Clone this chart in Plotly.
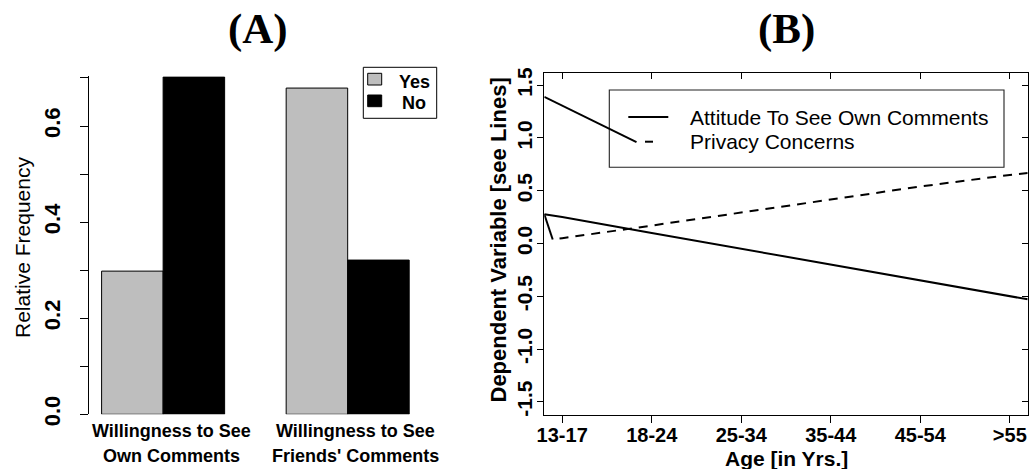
import plotly.graph_objects as go

W, H = 1029, 469

# ---------------- data ----------------
groups = ["Willingness to See<br>Own Comments", "Willingness to See<br>Friends' Comments"]
answers = ["Yes", "No"]
yes_freq = [0.298, 0.679]
no_freq = [0.702, 0.321]
freq_ticks = [0.0, 0.1, 0.2, 0.3, 0.4, 0.5, 0.6, 0.7]
freq_ticklabels = ["0.0", "", "0.2", "", "0.4", "", "0.6", ""]

ages = ["13-17", "18-24", "25-34", "35-44", "45-54", ">55"]
age_pos = [1, 2, 3, 4, 5, 6]
attitude_x = [0.8, 1, 2, 3, 4, 5, 6, 6.2]
attitude_y = [0.277, 0.25, 0.10, -0.05, -0.20, -0.35, -0.50, -0.529]
privacy_x = [0.97, 1, 2, 3, 4, 5, 6, 6.2]
privacy_y = [0.047, 0.05, 0.17, 0.295, 0.42, 0.54, 0.65, 0.667]
stray_a_x = [0.8, 1.83]
stray_a_y = [1.39, 0.96]
stray_b_x = [0.8, 0.894]
stray_b_y = [0.277, 0.038]
dv_ticks = [-1.5, -1.0, -0.5, 0.0, 0.5, 1.0, 1.5]
dv_ticklabels = ["-1.5", "-1.0", "-0.5", "0.0", "0.5", "1.0", "1.5"]

GRAY = "#BEBEBE"
SANS = "Liberation Sans, Arial, sans-serif"
SERIF = "Liberation Serif, Times New Roman, serif"


def px(x):
    return x / W


def py(y):
    return 1 - y / H


# bar positions (R barplot beside=TRUE layout: one bar-width gap before each group)
group_centers = [2 + 3 * i for i in range(len(groups))]
yes_pos = [c - 0.5 for c in group_centers]
no_pos = [c + 0.5 for c in group_centers]

fig = go.Figure()
fig.add_trace(go.Bar(x=yes_pos, y=yes_freq, width=1, name=answers[0],
                     marker=dict(color=GRAY, line=dict(color="black", width=1)),
                     xaxis="x", yaxis="y", showlegend=False))
fig.add_trace(go.Bar(x=no_pos, y=no_freq, width=1, name=answers[1],
                     marker=dict(color="black", line=dict(color="black", width=1)),
                     xaxis="x", yaxis="y", showlegend=False))

line_style = dict(color="black", width=2)
fig.add_trace(go.Scatter(x=attitude_x, y=attitude_y, mode="lines", name="Attitude To See Own Comments",
                         line=line_style, xaxis="x2", yaxis="y2", showlegend=False))
fig.add_trace(go.Scatter(x=privacy_x, y=privacy_y, mode="lines", name="Privacy Concerns",
                         line=dict(color="black", width=2, dash="9px,7px"),
                         xaxis="x2", yaxis="y2", showlegend=False))
fig.add_trace(go.Scatter(x=stray_a_x, y=stray_a_y, mode="lines", line=line_style,
                         xaxis="x2", yaxis="y2", showlegend=False, hoverinfo="skip"))
fig.add_trace(go.Scatter(x=stray_b_x, y=stray_b_y, mode="lines", line=line_style,
                         xaxis="x2", yaxis="y2", showlegend=False, hoverinfo="skip"))
# empty trace to activate the inner-tick overlay axes
fig.add_trace(go.Scatter(x=[None], y=[None], xaxis="x3", yaxis="y3", showlegend=False, hoverinfo="skip"))

left_dom = [px(89.3), px(421.5)]
right_dom = [px(544.3), px(1027.7)]
ly_dom = [py(414.3), py(76.3)]
ry_dom = [py(414.5), py(72.5)]

fig.update_layout(
    width=W, height=H,
    margin=dict(l=0, r=0, t=0, b=0),
    paper_bgcolor="white", plot_bgcolor="white",
    showlegend=False,
    barmode="overlay",
    xaxis=dict(domain=left_dom, range=[0.8, 6.2], showgrid=False, zeroline=False,
               showline=False, showticklabels=False, ticks="", automargin=False),
    yaxis=dict(domain=ly_dom, range=[0, 0.7035], showgrid=False, zeroline=False,
               showline=True, linecolor="black", linewidth=1.2,
               ticks="outside", ticklen=8, tickwidth=1.2, tickcolor="black",
               tickvals=freq_ticks, ticktext=freq_ticklabels, tickangle=-90,
               tickfont=dict(family=SANS, size=22, color="black", weight="bold"),
               ticklabelstandoff=11, automargin=False),
    xaxis2=dict(domain=right_dom, range=[0.8, 6.2], showgrid=False, zeroline=False,
                showline=True, mirror=True, linecolor="black", linewidth=1.3,
                ticks="outside", ticklen=7, tickwidth=1.2, tickcolor="black",
                tickvals=age_pos, ticktext=ages,
                tickfont=dict(family=SANS, size=20, color="black", weight="bold"),
                ticklabelstandoff=-5, automargin=False, anchor="y2"),
    yaxis2=dict(domain=ry_dom, range=[-1.62, 1.62], showgrid=False, zeroline=False,
                showline=True, mirror=True, linecolor="black", linewidth=1.3,
                ticks="outside", ticklen=6, tickwidth=1.2, tickcolor="black",
                tickvals=dv_ticks, ticktext=dv_ticklabels, tickangle=-90,
                tickfont=dict(family=SANS, size=21, color="black", weight="bold"),
                ticklabelstandoff=-3, automargin=False, anchor="x2"),
    xaxis3=dict(domain=right_dom, range=[0.8, 6.2], overlaying="x2", side="top",
                showgrid=False, zeroline=False, showline=False, showticklabels=False,
                ticks="inside", ticklen=6, tickwidth=1.2, tickcolor="black",
                tickvals=age_pos, anchor="y3", automargin=False),
    yaxis3=dict(domain=ry_dom, range=[-1.62, 1.62], overlaying="y2", side="right",
                showgrid=False, zeroline=False, showline=False, showticklabels=False,
                ticks="inside", ticklen=6, tickwidth=1.2, tickcolor="black",
                tickvals=dv_ticks, anchor="x3", automargin=False),
)

ann = []
# panel titles
ann.append(dict(text="<b>(A)</b>", x=px(257.5), y=py(29), xref="paper", yref="paper",
                xanchor="center", yanchor="middle", showarrow=False,
                font=dict(family=SERIF, size=43, color="black")))
ann.append(dict(text="<b>(B)</b>", x=px(786), y=py(29), xref="paper", yref="paper",
                xanchor="center", yanchor="middle", showarrow=False,
                font=dict(family=SERIF, size=43, color="black")))
# left y title
ann.append(dict(text="Relative Frequency", x=px(22), y=py(248), xref="paper", yref="paper",
                textangle=-90, xanchor="center", yanchor="middle", showarrow=False,
                font=dict(family=SANS, size=21, color="black")))
# group labels
for c, g in zip(group_centers, groups):
    l1, l2 = g.split("<br>")
    ann.append(dict(text="<b>%s</b>" % l1, x=c, xref="x", y=py(431), yref="paper", xshift=8,
                    xanchor="center", yanchor="middle", showarrow=False,
                    font=dict(family=SANS, size=18, color="black")))
    ann.append(dict(text="<b>%s</b>" % l2, x=c, xref="x", y=py(455.5), yref="paper", xshift=8,
                    xanchor="center", yanchor="middle", showarrow=False,
                    font=dict(family=SANS, size=18, color="black")))
# right axis titles
ann.append(dict(text="<b>Dependent Variable [see Lines]</b>", x=px(497.5), y=py(240),
                xref="paper", yref="paper", textangle=-90, xanchor="center", yanchor="middle",
                showarrow=False, font=dict(family=SANS, size=22, color="black")))
ann.append(dict(text="<b>Age [in Yrs.]</b>", x=px(786), y=py(458), xref="paper", yref="paper",
                xanchor="center", yanchor="middle", showarrow=False,
                font=dict(family=SANS, size=21, color="black")))
# left legend texts
for label, yc in zip(answers, [81.7, 103]):
    ann.append(dict(text="<b>%s</b>" % label, x=px(414.2), y=py(yc), xref="paper", yref="paper",
                    xanchor="center", yanchor="middle", showarrow=False,
                    font=dict(family=SANS, size=18, color="black")))
# right legend texts
for label, yc in zip(["Attitude To See Own Comments", "Privacy Concerns"], [117.2, 141]):
    ann.append(dict(text=label, x=px(688), y=py(yc), xref="paper", yref="paper",
                    xanchor="left", yanchor="middle", showarrow=False,
                    font=dict(family=SANS, size=21, color="black")))
fig.update_layout(annotations=ann)

shapes = []
# left legend box and keys
shapes.append(dict(type="rect", xref="paper", yref="paper", x0=px(363.3), x1=px(436.7),
                   y0=py(118.3), y1=py(67.3), line=dict(color="black", width=1), fillcolor="white",
                   layer="above"))
shapes.append(dict(type="rect", xref="paper", yref="paper", x0=px(367.7), x1=px(381.7),
                   y0=py(85), y1=py(73.3), line=dict(color="black", width=1), fillcolor=GRAY,
                   layer="above"))
shapes.append(dict(type="rect", xref="paper", yref="paper", x0=px(367.7), x1=px(381.7),
                   y0=py(106.7), y1=py(95), line=dict(color="black", width=1), fillcolor="black",
                   layer="above"))
# right legend box and keys
shapes.append(dict(type="rect", xref="paper", yref="paper", x0=px(609.3), x1=px(1004),
                   y0=py(167.3), y1=py(90), line=dict(color="#222222", width=1.1), layer="below"))
shapes.append(dict(type="line", xref="paper", yref="paper", x0=px(628.3), x1=px(668.3),
                   y0=py(117), y1=py(117), line=dict(color="black", width=2)))
shapes.append(dict(type="line", xref="paper", yref="paper", x0=px(645), x1=px(653),
                   y0=py(141.7), y1=py(141.7), line=dict(color="black", width=2)))
fig.update_layout(shapes=shapes)

fig.write_html(
    "out.html",
    config={"displayModeBar": False},
    post_script="document.body.style.margin='0';document.body.style.overflow='hidden';",
)
